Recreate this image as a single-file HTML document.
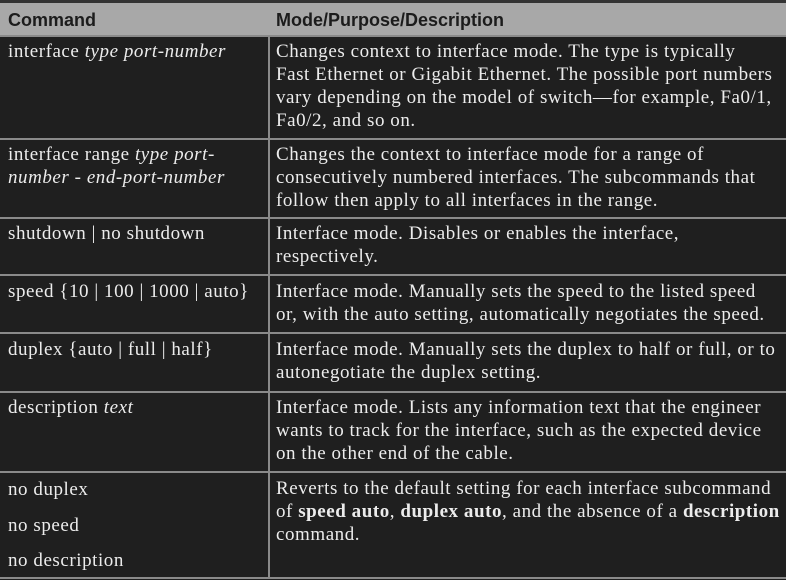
<!DOCTYPE html>
<html><head><style>
body{margin:0;width:786px;height:580px;background:#1f1f1f;overflow:hidden;position:relative;font-family:"Liberation Serif",serif;color:#ececec;}
.h{position:absolute;left:0;top:0;width:786px;height:36px;background:#a8a8a8;border-top:3px solid #333;box-sizing:border-box;}
.ht{position:absolute;top:7px;font:bold 18px "Liberation Sans",sans-serif;color:#1c1c1c;}
.hl{position:absolute;left:0;width:786px;height:2px;background:#8a8a8a;}
.vl{position:absolute;left:268px;top:36px;width:2px;height:542px;background:#8a8a8a;}
.c{position:absolute;font-size:19px;letter-spacing:0.55px;line-height:23px;white-space:nowrap;}
.l{left:8px}.r{left:276px}
b{font-weight:bold}
</style></head><body>
<div class="h"><div class="ht" style="left:8px">Command</div><div class="ht" style="left:276px">Mode/Purpose/Description</div></div>
<div class="hl" style="top:35px"></div>
<div class="hl" style="top:138px"></div>
<div class="hl" style="top:217px"></div>
<div class="hl" style="top:274px"></div>
<div class="hl" style="top:332px"></div>
<div class="hl" style="top:391px"></div>
<div class="hl" style="top:471px"></div>
<div class="hl" style="top:577px"></div>
<div class="vl"></div>
<div class="c l" style="top:40px">interface <i>type port-number</i></div>
<div class="c r" style="top:40px">Changes context to interface mode. The type is typically<br>Fast Ethernet or Gigabit Ethernet. The possible port numbers<br>vary depending on the model of switch—for example, Fa0/1,<br>Fa0/2, and so on.</div>
<div class="c l" style="top:143px">interface range <i>type port-</i><br><i>number - end-port-number</i></div>
<div class="c r" style="top:143px">Changes the context to interface mode for a range of<br>consecutively numbered interfaces. The subcommands that<br>follow then apply to all interfaces in the range.</div>
<div class="c l" style="top:222px">shutdown | no shutdown</div>
<div class="c r" style="top:222px">Interface mode. Disables or enables the interface,<br>respectively.</div>
<div class="c l" style="top:280px">speed {10 | 100 | 1000 | auto}</div>
<div class="c r" style="top:280px">Interface mode. Manually sets the speed to the listed speed<br>or, with the auto setting, automatically negotiates the speed.</div>
<div class="c l" style="top:338px">duplex {auto | full | half}</div>
<div class="c r" style="top:338px">Interface mode. Manually sets the duplex to half or full, or to<br>autonegotiate the duplex setting.</div>
<div class="c l" style="top:396px">description <i>text</i></div>
<div class="c r" style="top:396px">Interface mode. Lists any information text that the engineer<br>wants to track for the interface, such as the expected device<br>on the other end of the cable.</div>
<div class="c l" style="top:472px;line-height:35.5px">no duplex<br>no speed<br>no description</div>
<div class="c r" style="top:477px">Reverts to the default setting for each interface subcommand<br>of <b>speed auto</b>, <b>duplex auto</b>, and the absence of a <b>description</b><br>command.</div>
</body></html>
